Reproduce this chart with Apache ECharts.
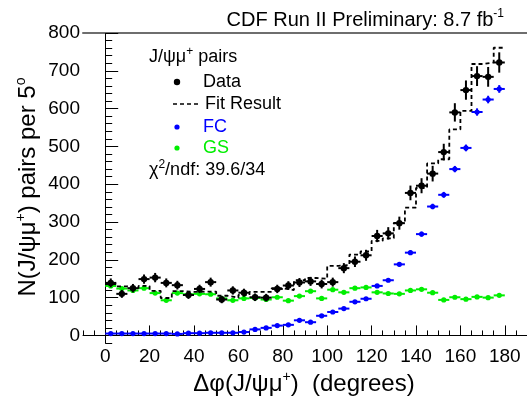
<!DOCTYPE html>
<html>
<head>
<meta charset="utf-8">
<script src="https://cdn.jsdelivr.net/npm/echarts@6/dist/echarts.min.js"></script>
<style>
  html, body { margin: 0; padding: 0; background: #fff; }
  #main { width: 527px; height: 400px; }
</style>
</head>
<body>
<div id="main"></div>
<script>
// bin centres (5 degree bins)
const centers = [2.5, 7.5, 12.5, 17.5, 22.5, 27.5, 32.5, 37.5, 42.5, 47.5, 52.5, 57.5,
  62.5, 67.5, 72.5, 77.5, 82.5, 87.5, 92.5, 97.5, 102.5, 107.5, 112.5, 117.5,
  122.5, 127.5, 132.5, 137.5, 142.5, 147.5, 152.5, 157.5, 162.5, 167.5, 172.5, 177.5];

// data points
const dataCounts = [139, 110, 125, 149, 153, 139, 133, 107, 123, 141, 95, 119,
  113, 101, 100, 123, 132, 140, 143, 136, 141, 178, 195, 212,
  263, 270, 297, 377, 396, 428, 485, 590, 649, 686, 684, 722];

// FC template
const fcCounts = [5, 5, 5, 5, 5, 5, 4, 6, 6, 7, 7, 7,
  9, 16, 20, 26, 28, 40, 35, 52, 62, 71, 89, 97,
  131, 146, 188, 219, 268, 341, 372, 440, 496, 591, 624, 652];

// GS template
const gsCounts = [131, 124, 119, 125, 112, 93, 112, 109, 110, 109, 98, 93,
  98, 99, 95, 101, 92, 104, 117, 98, 121, 114, 125, 127,
  114, 111, 110, 119, 122, 113, 94, 101, 96, 102, 100, 106];

// fit result (histogram)
const fitCounts = [136, 130, 125, 131, 118, 99, 117, 115, 116, 116, 105, 100,
  107, 115, 115, 125, 120, 146, 152, 150, 184, 186, 214, 222,
  250, 257, 298, 338, 390, 455, 466, 545, 594, 718, 722, 761];

const xTicks = [0, 20, 40, 60, 80, 100, 120, 140, 160, 180];
const yTicks = [0, 100, 200, 300, 400, 500, 600, 700, 800];

const FONT = '"Liberation Sans", Arial, sans-serif';
const BIN = 5;

function crossRender(color, radius, lineW, errScale) {
  return function (params, api) {
    const x = api.value(0), y = api.value(1);
    const e = Math.sqrt(Math.max(y, 0)) * errScale;
    const c = api.coord([x, y]);
    const l = api.coord([x - BIN / 2, y]);
    const r = api.coord([x + BIN / 2, y]);
    const t = api.coord([x, y + e]);
    const b = api.coord([x, y - e]);
    return {
      type: 'group',
      children: [
        { type: 'line', shape: { x1: l[0], y1: l[1], x2: r[0], y2: r[1] }, style: { stroke: color, lineWidth: lineW } },
        { type: 'line', shape: { x1: t[0], y1: t[1], x2: b[0], y2: b[1] }, style: { stroke: color, lineWidth: lineW } },
        { type: 'circle', shape: { cx: c[0], cy: c[1], r: radius }, style: { fill: color } }
      ]
    };
  };
}

const pairs = arr => arr.map((v, i) => [centers[i], v]);
// histogram edges for the step line
const fitLine = fitCounts.map((v, i) => [centers[i] - BIN / 2, v]);
fitLine.push([centers[centers.length - 1] + BIN / 2, fitCounts[fitCounts.length - 1]]);

const sup = { fontSize: 12, lineHeight: 12, verticalAlign: 'top', fontFamily: FONT };

var myChart = echarts.init(document.getElementById('main'));
let o = {
  animation: false,
  backgroundColor: '#fff',
  grid: { left: 83, top: 33, width: 450, height: 310 },
  xAxis: [
    {
      type: 'value', min: -10, max: 190, interval: 5, position: 'bottom',
      axisLine: { lineStyle: { color: '#000', width: 1 } },
      axisTick: { inside: true, length: 5, lineStyle: { color: '#000' } },
      axisLabel: { show: false },
      splitLine: { show: false }
    },
    {
      type: 'value', min: -10, max: 190, position: 'bottom',
      axisLine: { show: false },
      axisTick: { inside: true, length: 10, customValues: xTicks, lineStyle: { color: '#000' } },
      axisLabel: { customValues: xTicks, color: '#000', fontSize: 19, fontFamily: FONT, margin: 4 },
      splitLine: { show: false }
    },
    {
      type: 'value', min: -10, max: 190, position: 'top',
      axisLine: { lineStyle: { color: '#6e6e6e', width: 2 } },
      axisTick: { show: false }, axisLabel: { show: false }, splitLine: { show: false }
    }
  ],
  yAxis: [
    {
      type: 'value', min: -20, max: 800, interval: 20, position: 'left',
      axisLine: { show: true, lineStyle: { color: '#000', width: 1 } },
      axisTick: { show: true, inside: true, length: 7, lineStyle: { color: '#000' } },
      axisLabel: { show: false },
      splitLine: { show: false }
    },
    {
      type: 'value', min: -20, max: 800, position: 'left',
      axisLine: { show: false },
      axisTick: { show: true, inside: true, length: 13, customValues: yTicks, lineStyle: { color: '#000' } },
      axisLabel: { customValues: yTicks, color: '#000', fontSize: 19, fontFamily: FONT, margin: 3 },
      splitLine: { show: false }
    }
  ],
  series: [
    {
      name: 'GS', type: 'custom', xAxisIndex: 0, yAxisIndex: 0,
      data: pairs(gsCounts), renderItem: crossRender('#00ee00', 2.6, 2, 0.4), z: 2
    },
    {
      name: 'FC', type: 'custom', xAxisIndex: 0, yAxisIndex: 0,
      data: pairs(fcCounts), renderItem: crossRender('#0000ff', 2.6, 2, 0.4), z: 3
    },
    {
      name: 'Fit Result', type: 'line', xAxisIndex: 0, yAxisIndex: 0, step: 'end',
      data: fitLine, symbol: 'none',
      lineStyle: { color: '#000', width: 1.8, type: [4, 3] }, z: 4
    },
    {
      name: 'Data', type: 'custom', xAxisIndex: 0, yAxisIndex: 0,
      data: pairs(dataCounts), renderItem: crossRender('#000', 3.2, 2, 1), z: 5
    }
  ],
  graphic: [
    {
      type: 'text', right: 23, top: 8,
      style: {
        text: '{n|CDF Run II Preliminary: 8.7 fb}{s|-1}',
        rich: { n: { fontSize: 20, lineHeight: 24, fontFamily: FONT, fill: '#000' }, s: sup }
      }
    },
    {
      type: 'text', x: 149, y: 57,
      style: {
        text: '{n|J/ψμ}{s|+}{n| pairs}', verticalAlign: 'middle',
        rich: { n: { fontSize: 18, lineHeight: 22, fontFamily: FONT, fill: '#000' }, s: sup }
      }
    },
    { type: 'circle', shape: { cx: 177, cy: 82, r: 3.2 }, style: { fill: '#000' } },
    { type: 'text', x: 203, y: 82, style: { text: 'Data', fontSize: 18, fontFamily: FONT, fill: '#000', verticalAlign: 'middle' } },
    { type: 'line', shape: { x1: 173, y1: 104, x2: 198, y2: 104 }, style: { stroke: '#000', lineWidth: 1.5, lineDash: [4, 3] } },
    { type: 'text', x: 205, y: 104, style: { text: 'Fit Result', fontSize: 18, fontFamily: FONT, fill: '#000', verticalAlign: 'middle' } },
    { type: 'circle', shape: { cx: 177, cy: 127, r: 2.6 }, style: { fill: '#0000ff' } },
    { type: 'text', x: 203, y: 127, style: { text: 'FC', fontSize: 18, fontFamily: FONT, fill: '#0000ff', verticalAlign: 'middle' } },
    { type: 'circle', shape: { cx: 177, cy: 148, r: 2.6 }, style: { fill: '#00ee00' } },
    { type: 'text', x: 203, y: 148, style: { text: 'GS', fontSize: 18, fontFamily: FONT, fill: '#00ee00', verticalAlign: 'middle' } },
    {
      type: 'text', x: 149, y: 170,
      style: {
        text: '{n|χ}{s|2}{n|/ndf: 39.6/34}', verticalAlign: 'middle',
        rich: { n: { fontSize: 18, lineHeight: 22, fontFamily: FONT, fill: '#000' }, s: sup }
      }
    },
    {
      type: 'text', x: 304, y: 384,
      style: {
        text: '{n|Δφ(J/ψμ}{s|+}{n|)  (degrees)}', align: 'center', verticalAlign: 'middle',
        rich: { n: { fontSize: 24, lineHeight: 28, fontFamily: FONT, fill: '#000' }, s: { fontSize: 14, lineHeight: 14, verticalAlign: 'top', fontFamily: FONT } }
      }
    },
    {
      type: 'text', x: 28, y: 187, rotation: Math.PI / 2,
      style: {
        text: '{n|N(J/ψμ}{s|+}{n|) pairs per 5}{s|o}', align: 'center', verticalAlign: 'middle',
        rich: { n: { fontSize: 24, lineHeight: 28, fontFamily: FONT, fill: '#000' }, s: { fontSize: 14, lineHeight: 14, verticalAlign: 'top', fontFamily: FONT } }
      }
    }
  ]
};

myChart.setOption(o);
</script>
</body>
</html>
